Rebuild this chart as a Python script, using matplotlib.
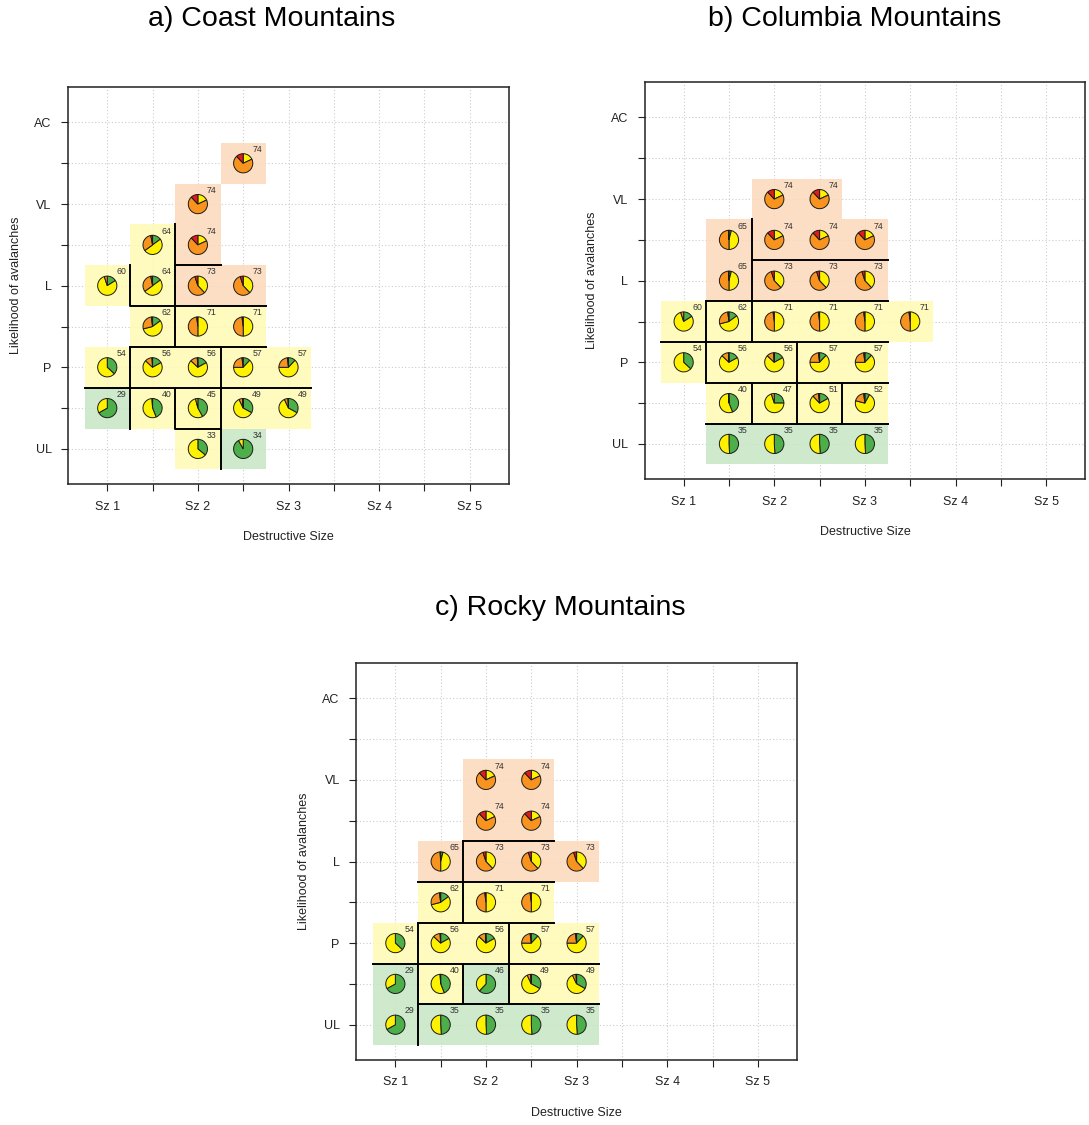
import matplotlib
matplotlib.use("Agg")
import matplotlib.pyplot as plt
import matplotlib.transforms as mtransforms
from matplotlib.patches import Wedge, Rectangle

plt.rcParams['font.family'] = ['Liberation Sans', 'DejaVu Sans']

# ---------------- data ----------------
size_labels = ["Sz 1", "", "Sz 2", "", "Sz 3", "", "Sz 4", "", "Sz 5"]
likelihood_labels = ["UL", "", "P", "", "L", "", "VL", "", "AC"]

# pie composition for each hazard score: shares of green, yellow, orange, red
score_values = [29, 33, 34, 35, 40, 45, 46, 47, 49, 51, 52, 54, 56, 57, 60, 62, 64, 65, 71, 73, 74]
green_share  = [0.67, 0.36, 0.92, 0.49, 0.44, 0.42, 0.62, 0.25, 0.33, 0.17, 0.08, 0.37, 0.17, 0.12, 0.16, 0.15, 0.15, 0.04, 0.00, 0.00, 0.00]
yellow_share = [0.33, 0.64, 0.08, 0.51, 0.55, 0.54, 0.38, 0.70, 0.60, 0.71, 0.71, 0.63, 0.70, 0.63, 0.79, 0.56, 0.50, 0.46, 0.50, 0.38, 0.18]
orange_share = [0.00, 0.00, 0.00, 0.00, 0.01, 0.04, 0.00, 0.05, 0.06, 0.10, 0.19, 0.00, 0.12, 0.23, 0.05, 0.27, 0.32, 0.49, 0.48, 0.57, 0.70]
red_share    = [0.00, 0.00, 0.00, 0.00, 0.00, 0.00, 0.00, 0.00, 0.01, 0.02, 0.02, 0.00, 0.01, 0.02, 0.00, 0.02, 0.03, 0.01, 0.02, 0.05, 0.12]

# a) Coast Mountains  (x: size grid index, y: likelihood grid index)
coast_x     = [4, 3, 2, 3, 1, 2, 3, 4, 2, 3, 4, 1, 2, 3, 4, 5, 1, 2, 3, 4, 5, 3, 4]
coast_y     = [8, 7, 6, 6, 5, 5, 5, 5, 4, 4, 4, 3, 3, 3, 3, 3, 2, 2, 2, 2, 2, 1, 1]
coast_score = [74, 74, 64, 74, 60, 64, 73, 73, 62, 71, 71, 54, 56, 56, 57, 57, 29, 40, 45, 49, 49, 33, 34]
coast_zone  = ['o', 'o', 'y', 'o', 'y', 'y', 'o', 'o', 'y', 'y', 'y', 'y', 'y', 'y', 'y', 'y',
               'g', 'y', 'y', 'y', 'y', 'y', 'g']
coast_borders = [[(1.5, 5.5), (1.5, 4.5), (4.5, 4.5)],
                 [(2.5, 6.5), (2.5, 3.5)],
                 [(2.5, 5.5), (3.5, 5.5)],
                 [(1.5, 3.5), (4.5, 3.5)],
                 [(3.5, 3.5), (3.5, 0.5)],
                 [(0.5, 2.5), (5.5, 2.5)],
                 [(2.5, 2.5), (2.5, 1.5), (3.5, 1.5)],
                 [(1.5, 3.5), (1.5, 1.5)]]

# b) Columbia Mountains
columbia_x     = [3, 4, 2, 3, 4, 5, 2, 3, 4, 5, 1, 2, 3, 4, 5, 6, 1, 2, 3, 4, 5, 2, 3, 4, 5, 2, 3, 4, 5]
columbia_y     = [7, 7, 6, 6, 6, 6, 5, 5, 5, 5, 4, 4, 4, 4, 4, 4, 3, 3, 3, 3, 3, 2, 2, 2, 2, 1, 1, 1, 1]
columbia_score = [74, 74, 65, 74, 74, 74, 65, 73, 73, 73, 60, 62, 71, 71, 71, 71,
                  54, 56, 56, 57, 57, 40, 47, 51, 52, 35, 35, 35, 35]
columbia_zone  = ['o'] * 10 + ['y'] * 15 + ['g'] * 4
columbia_borders = [[(2.5, 6.5), (2.5, 3.5)],
                    [(2.5, 5.5), (5.5, 5.5)],
                    [(1.5, 4.5), (5.5, 4.5)],
                    [(1.5, 4.5), (1.5, 2.5)],
                    [(0.5, 3.5), (5.5, 3.5)],
                    [(3.5, 3.5), (3.5, 1.5)],
                    [(1.5, 2.5), (5.5, 2.5)],
                    [(2.5, 2.5), (2.5, 1.5)],
                    [(4.5, 2.5), (4.5, 1.5)],
                    [(1.5, 1.5), (5.5, 1.5)]]

# c) Rocky Mountains
rocky_x     = [3, 4, 3, 4, 2, 3, 4, 5, 2, 3, 4, 1, 2, 3, 4, 5, 1, 2, 3, 4, 5, 1, 2, 3, 4, 5]
rocky_y     = [7, 7, 6, 6, 5, 5, 5, 5, 4, 4, 4, 3, 3, 3, 3, 3, 2, 2, 2, 2, 2, 1, 1, 1, 1, 1]
rocky_score = [74, 74, 74, 74, 65, 73, 73, 73, 62, 71, 71, 54, 56, 56, 57, 57,
               29, 40, 46, 49, 49, 29, 35, 35, 35, 35]
rocky_zone  = ['o'] * 8 + ['y'] * 8 + ['g', 'y', 'g', 'y', 'y'] + ['g'] * 5
rocky_borders = [[(2.5, 5.5), (4.5, 5.5)],
                 [(2.5, 5.5), (2.5, 3.5)],
                 [(1.5, 4.5), (4.5, 4.5)],
                 [(1.5, 3.5), (4.5, 3.5)],
                 [(1.5, 3.5), (1.5, 0.5)],
                 [(3.5, 3.5), (3.5, 1.5)],
                 [(0.5, 2.5), (5.5, 2.5)],
                 [(2.5, 2.5), (2.5, 1.5)],
                 [(1.5, 1.5), (5.5, 1.5)]]

titles = ["a) Coast Mountains", "b) Columbia Mountains", "c) Rocky Mountains"]

# ---------------- style ----------------
pie_colors = ['#4DAF4A', '#FFF200', '#F7931E', '#E31A1C']
zone_colors = {'g': '#C6E6C4', 'y': '#FFFAB3', 'o': '#FBD9BA'}
PIE_R = 0.096  # inches

W, H = 1089, 1125
fig = plt.figure(figsize=(W / 100, H / 100), dpi=100)

axes_px = [(68.3, 87.4), (644.7, 82.4), (356.4, 663.2)]  # left, top in pixels
AW, AH = 440.4, 396.6
title_pos = [(272, 19), (855, 19), (560, 608)]

panels = [
    (coast_x, coast_y, coast_score, coast_zone, coast_borders),
    (columbia_x, columbia_y, columbia_score, columbia_zone, columbia_borders),
    (rocky_x, rocky_y, rocky_score, rocky_zone, rocky_borders),
]

shares = {s: [g, y, o, r] for s, g, y, o, r in
          zip(score_values, green_share, yellow_share, orange_share, red_share)}

for k, (xs, ys, scs, zones, borders) in enumerate(panels):
    l, t = axes_px[k]
    ax = fig.add_axes([l / W, 1 - (t + AH) / H, AW / W, AH / H])
    ax.set_xlim(0.14, 9.86)
    ax.set_ylim(0.14, 9.86)
    ticks = list(range(1, 10))
    ax.set_xticks(ticks)
    ax.set_xticklabels(size_labels)
    ax.set_yticks(ticks)
    ax.set_yticklabels(likelihood_labels)
    ax.tick_params(direction='out', length=5, width=0.8, pad=7, labelsize=9, colors='#222222')
    ax.grid(True, color='#CCCCCC', linestyle=(0, (1, 2)), linewidth=0.8)
    ax.set_axisbelow(True)
    for sp in ax.spines.values():
        sp.set_linewidth(1.1)
        sp.set_color('#222222')

    # background cells
    for x, y, z in zip(xs, ys, zones):
        ax.add_patch(Rectangle((x - 0.5, y - 0.5), 1, 1, facecolor=zone_colors[z],
                               edgecolor='none', zorder=1, alpha=0.85))
    # group borders
    for path in borders:
        px = [p[0] for p in path]
        py = [p[1] for p in path]
        ax.plot(px, py, color='black', linewidth=1.4, zorder=3, solid_capstyle='projecting')
    # pies
    for x, y, s in zip(xs, ys, scs):
        tr = fig.dpi_scale_trans + mtransforms.ScaledTranslation(x, y, ax.transData)
        cum = 0.0
        for frac, col in zip(shares[s], pie_colors):
            if frac <= 0:
                continue
            th2 = 90 - 360 * cum
            th1 = 90 - 360 * (cum + frac)
            ax.add_patch(Wedge((0, 0), PIE_R, th1, th2, facecolor=col, edgecolor='#1a1a1a',
                               linewidth=0.7, transform=tr, zorder=4))
            cum += frac
        ax.annotate(str(s), (x, y), xytext=(10, 10), textcoords='offset points',
                    ha='center', va='center', fontsize=6.3, color='#333333', zorder=5)

    ax.text(0.5, -0.133, "Destructive Size", transform=ax.transAxes, ha='center',
            va='center', fontsize=9, color='#222222')
    ax.text(-0.119, 0.5, "Likelihood of avalanches", transform=ax.transAxes, ha='center',
            va='center', rotation=90, fontsize=9, color='#222222')
    tx, ty = title_pos[k]
    fig.text(tx / W, 1 - ty / H, titles[k], ha='center', va='center', fontsize=20.5)

fig.savefig("out.png", dpi=100)
